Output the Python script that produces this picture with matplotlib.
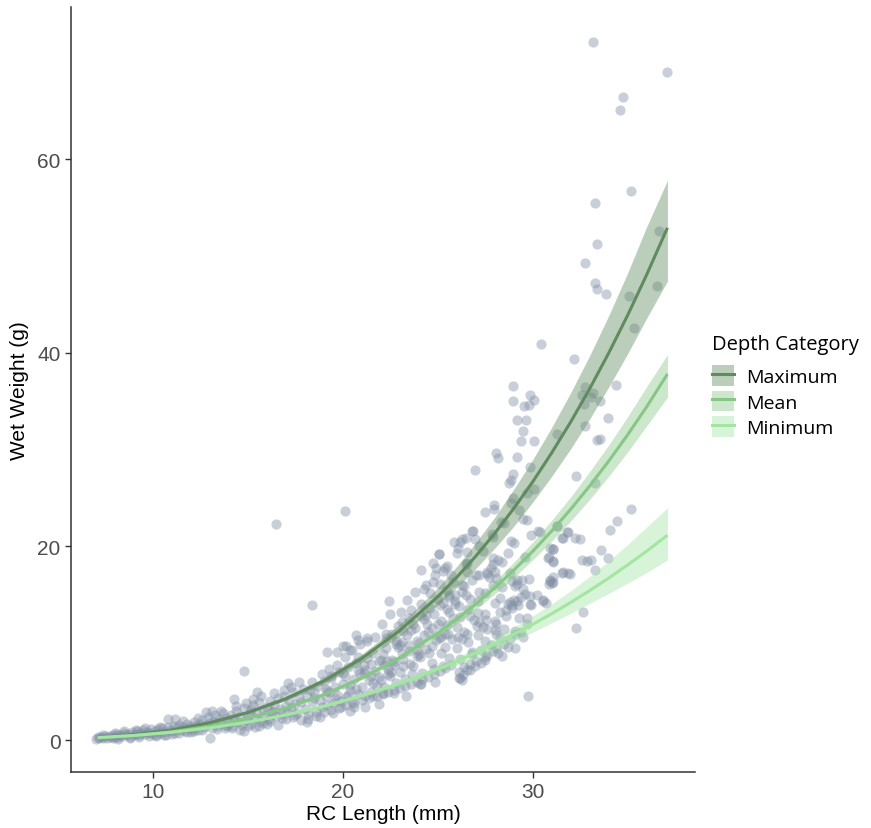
import matplotlib
matplotlib.use("Agg")
import matplotlib.pyplot as plt
from matplotlib.patches import Patch
from matplotlib.lines import Line2D

# scatter points (RC length mm, wet weight g)
ax_ = [7.0, 7.1, 7.2, 7.3, 7.4, 7.5, 7.6, 7.7, 7.8, 7.9,
       8.0, 8.1, 8.2, 8.3, 8.4, 8.5, 8.6, 8.7, 8.8, 8.9,
       9.0, 9.1, 9.2, 9.3, 9.4, 9.5, 9.6, 9.7, 9.8, 9.9,
       7.4, 8.2, 8.8, 9.3, 9.8, 7.9, 8.5, 9.1, 9.6, 8.0]
ay_ = [0.15, 0.3, 0.2, 0.35, 0.25, 0.4, 0.2, 0.45, 0.3, 0.5,
       0.35, 0.6, 0.3, 0.55, 0.4, 0.7, 0.5, 0.6, 0.35, 0.8,
       0.55, 0.65, 0.9, 0.5, 0.75, 1.0, 0.6, 0.85, 0.7, 1.1,
       0.5, 0.15, 0.2, 0.3, 0.4, 0.2, 0.9, 1.0, 1.2, 0.7]

bx = [10.0, 10.1, 10.2, 10.3, 10.4, 10.5, 10.6, 10.7, 10.8, 10.9,
      11.0, 11.1, 11.2, 11.3, 11.4, 11.5, 11.6, 11.7, 11.8, 11.9,
      12.0, 12.1, 12.2, 12.3, 12.4, 12.5, 12.6, 12.7, 12.8, 12.9,
      13.0, 13.1, 13.2, 13.3, 13.4, 13.5, 13.6, 13.7, 13.8, 13.9,
      10.2, 10.6, 11.0, 11.4, 11.8, 12.2, 12.6, 13.0, 13.4, 13.8,
      10.4, 10.8, 11.6, 12.4, 13.1, 13.6, 12.0, 11.2, 12.8, 13.9]
by = [0.6, 0.9, 0.5, 1.1, 0.7, 1.2, 0.8, 0.5, 1.3, 1.0,
      0.9, 1.4, 0.7, 1.2, 1.6, 1.0, 1.3, 0.9, 1.7, 1.2,
      1.5, 1.1, 1.9, 1.4, 1.0, 1.7, 2.1, 1.3, 1.6, 2.4,
      1.8, 1.2, 2.0, 2.6, 1.5, 2.2, 1.9, 2.8, 1.6, 2.3,
      0.4, 0.5, 0.6, 0.7, 0.8, 0.9, 1.0, 0.25, 1.1, 1.2,
      1.3, 2.2, 2.0, 2.3, 3.0, 3.0, 0.8, 2.2, 2.9, 1.4]

cx = [14.0, 14.1, 14.2, 14.3, 14.4, 14.5, 14.6, 14.7, 14.8, 14.9,
      15.0, 15.1, 15.2, 15.3, 15.4, 15.5, 15.6, 15.7, 15.8, 15.9,
      16.0, 16.1, 16.2, 16.3, 16.4, 16.5, 16.6, 16.7, 16.8, 16.9,
      17.0, 17.1, 17.2, 17.3, 17.4, 17.5, 17.6, 17.7, 17.8, 17.9,
      14.2, 14.6, 15.0, 15.4, 15.8, 16.2, 16.6, 17.0, 17.4, 17.8,
      14.4, 14.9, 15.3, 15.7, 16.4, 16.9, 17.3, 17.7, 14.8, 15.6,
      16.0, 16.8, 17.5, 15.2, 16.3, 14.8, 16.5, 15.5, 17.1, 14.3]
cy = [1.8, 2.6, 1.4, 2.2, 3.0, 1.9, 2.5, 1.6, 3.3, 2.1,
      2.4, 2.9, 1.7, 3.6, 2.3, 2.8, 3.9, 2.0, 3.1, 2.6,
      3.4, 2.2, 4.0, 2.9, 3.6, 2.5, 4.3, 3.2, 2.7, 4.6,
      3.5, 2.9, 4.1, 3.3, 5.0, 3.7, 2.8, 4.4, 3.9, 5.3,
      1.2, 1.0, 1.5, 1.3, 1.8, 2.0, 1.6, 2.2, 2.4, 2.1,
      3.5, 3.8, 4.2, 4.5, 4.9, 5.2, 5.5, 6.0, 0.9, 1.4,
      1.7, 2.3, 2.6, 3.2, 3.0, 7.1, 22.3, 5.0, 5.9, 4.2]

dx = [18.0, 18.1, 18.2, 18.3, 18.4, 18.5, 18.6, 18.7, 18.8, 18.9,
      19.0, 19.1, 19.2, 19.3, 19.4, 19.5, 19.6, 19.7, 19.8, 19.9,
      20.0, 20.1, 20.2, 20.3, 20.4, 20.5, 20.6, 20.7, 20.8, 20.9,
      21.0, 21.1, 21.2, 21.3, 21.4, 21.5, 21.6, 21.7, 21.8, 21.9,
      18.2, 18.6, 19.0, 19.4, 19.8, 20.2, 20.6, 21.0, 21.4, 21.8,
      18.4, 18.9, 19.3, 19.7, 20.1, 20.5, 20.9, 21.3, 21.7, 18.1,
      18.8, 19.5, 20.4, 21.2, 21.9, 19.1, 20.8, 21.5, 18.5, 20.0,
      18.4, 19.2, 19.7, 20.2, 20.4, 20.7, 20.8, 21.3, 20.6, 20.1]
dy = [3.2, 4.6, 2.7, 5.2, 3.9, 4.3, 2.9, 5.6, 4.1, 3.4,
      6.1, 4.5, 3.6, 5.0, 6.4, 3.8, 5.5, 4.7, 7.0, 4.0,
      5.8, 6.6, 4.4, 7.5, 5.2, 3.9, 6.3, 8.0, 4.8, 6.9,
      5.5, 7.8, 4.6, 8.5, 6.2, 5.0, 9.0, 7.1, 5.6, 8.2,
      2.2, 2.5, 2.9, 3.1, 3.3, 3.6, 3.8, 4.1, 4.3, 4.5,
      6.0, 6.8, 7.3, 7.8, 8.6, 9.3, 9.9, 10.2, 10.6, 1.9,
      2.4, 2.8, 3.0, 3.4, 3.7, 5.3, 7.2, 6.6, 5.0, 9.7,
      13.9, 9.1, 9.05, 9.7, 9.3, 10.8, 10.3, 10.5, 3.45, 23.7]

ex = [22.0, 22.1, 22.2, 22.3, 22.4, 22.5, 22.6, 22.7, 22.8, 22.9,
      23.0, 23.1, 23.2, 23.3, 23.4, 23.5, 23.6, 23.7, 23.8, 23.9,
      24.0, 24.1, 24.2, 24.3, 24.4, 24.5, 24.6, 24.7, 24.8, 24.9,
      25.0, 25.1, 25.2, 25.3, 25.4, 25.5, 25.6, 25.7, 25.8, 25.9,
      22.1, 22.4, 22.7, 23.0, 23.3, 23.6, 23.9, 24.2, 24.5, 24.8,
      25.1, 25.4, 25.7, 22.2, 22.6, 23.1, 23.5, 23.9, 24.3, 24.7,
      25.2, 25.6, 25.9, 22.3, 22.8, 23.2, 23.7, 24.1, 24.6, 25.0,
      25.5, 25.8, 22.5, 23.4, 24.4, 25.3, 22.9, 23.8, 24.9, 25.4,
      22.05, 22.55, 23.05, 23.55, 24.05, 24.55, 25.05, 25.55, 22.35, 23.65,
      22.45, 24.15, 24.75, 25.05, 25.4, 25.5, 24.85, 24.75, 23.35, 24.1,
      24.85, 22.7, 22.15, 21.6, 25.85, 24.05, 23.0, 25.3, 25.75, 24.45]
ey = [6.2, 8.9, 5.5, 10.5, 7.3, 6.6, 11.0, 8.1, 5.9, 9.6,
      7.0, 12.2, 8.4, 6.3, 10.8, 9.2, 13.4, 7.6, 11.6, 8.7,
      10.0, 14.0, 6.9, 12.5, 9.4, 11.2, 15.2, 8.0, 13.0, 10.3,
      12.0, 16.1, 9.0, 14.2, 11.0, 13.5, 8.5, 17.0, 12.6, 15.0,
      4.8, 5.0, 5.2, 5.4, 5.6, 5.8, 6.0, 6.3, 6.5, 6.8,
      7.1, 7.4, 7.8, 7.8, 8.3, 9.0, 9.8, 10.2, 10.8, 11.6,
      12.3, 13.2, 14.1, 9.5, 10.2, 11.3, 12.0, 12.8, 13.6, 14.6,
      15.5, 16.3, 13.0, 14.5, 16.0, 17.5, 11.8, 15.3, 17.8, 9.6,
      12.0, 7.0, 13.2, 7.9, 8.6, 9.0, 10.5, 10.9, 8.2, 6.8,
      14.4, 17.6, 18.3, 19.2, 17.8, 18.0, 17.0, 16.3, 4.6, 5.8,
      5.95, 4.9, 4.9, 4.6, 20.5, 5.75, 9.8, 7.6, 10.4, 12.0]

fx = [26.0, 26.1, 26.2, 26.3, 26.4, 26.5, 26.6, 26.7, 26.8, 26.9,
      27.0, 27.1, 27.2, 27.3, 27.4, 27.5, 27.6, 27.7, 27.8, 27.9,
      28.0, 28.1, 28.2, 28.3, 28.4, 28.5, 28.6, 28.7, 28.8, 28.9,
      29.0, 29.1, 29.2, 29.3, 29.4, 29.5, 29.6, 29.7, 29.8, 29.9,
      26.1, 26.4, 26.7, 27.0, 27.3, 27.6, 27.9, 28.2, 28.5, 28.8,
      29.1, 29.4, 29.7, 26.2, 26.6, 27.1, 27.5, 27.9, 28.3, 28.7,
      29.2, 29.6, 26.3, 26.8, 27.4, 28.0, 28.6, 29.3, 29.9, 26.5,
      27.2, 27.8, 28.4, 29.0, 29.5, 26.05, 26.55, 27.05, 27.55, 28.05]
fy = [9.5, 13.8, 8.4, 16.0, 11.2, 18.2, 10.1, 14.6, 8.9, 12.4,
      17.0, 10.8, 15.3, 9.3, 19.5, 13.0, 11.5, 16.8, 9.8, 21.0,
      14.2, 12.0, 18.6, 10.5, 15.8, 22.4, 12.8, 9.6, 17.2, 13.9,
      20.3, 11.3, 16.1, 23.8, 14.8, 10.6, 18.9, 12.6, 16.6, 21.2,
      7.0, 7.5, 7.9, 8.2, 8.0, 8.8, 9.2, 9.0, 9.9, 10.4,
      10.9, 11.2, 12.0, 12.7, 13.5, 14.4, 15.2, 16.0, 13.2, 14.0,
      14.4, 15.1, 15.3, 16.5, 11.7, 12.3, 13.4, 12.6, 13.9, 15.0,
      17.0, 17.8, 18.4, 14.5, 15.6, 10.6, 11.0, 11.8, 12.4, 11.0]

gx = [28.96, 28.96, 29.86, 30.07, 29.56, 29.8, 29.17, 29.66, 29.47, 29.37,
      30.07, 28.07, 28.16, 29.17, 26.96, 29.86, 28.96, 28.86, 28.77, 30.07,
      28.95, 28.86, 29.68, 27.96, 27.98, 27.47, 29.47, 29.68, 28.33, 26.82,
      26.87, 27.88, 26.47, 26.17, 26.98, 28.86, 26.08, 26.56, 26.0, 25.07,
      27.93, 27.58, 28.02, 28.1, 28.9, 29.16, 29.42, 26.53, 26.56, 26.26,
      29.07, 28.1, 27.49, 27.49, 26.96, 26.53, 26.35, 26.26, 26.1, 26.7,
      29.77, 29.87, 30.21, 29.87, 29.24, 28.9, 26.17, 25.6, 27.2, 28.5]
gy = [36.6, 35.0, 35.6, 35.1, 34.5, 34.6, 33.0, 33.0, 31.9, 30.9,
      30.9, 29.6, 29.1, 29.2, 27.9, 28.2, 27.5, 26.9, 26.5, 25.9,
      25.0, 24.5, 25.5, 24.3, 23.9, 23.6, 22.8, 22.7, 22.5, 21.6,
      21.6, 21.3, 20.9, 20.5, 20.8, 20.6, 19.8, 19.4, 19.3, 19.2,
      18.2, 17.1, 17.4, 16.7, 16.4, 16.5, 16.5, 18.3, 17.4, 20.8,
      9.5, 9.5, 8.3, 8.6, 7.6, 7.2, 6.7, 6.2, 6.4, 7.2,
      4.6, 14.9, 15.0, 14.1, 13.9, 13.6, 6.4, 15.0, 20.0, 11.5]

hx = [30.42, 33.17, 37.07, 34.77, 34.6, 35.16, 33.30, 33.37, 32.77, 33.26,
      33.37, 33.86, 36.65, 36.56, 35.07, 35.35, 32.16, 34.37, 32.77, 32.6,
      33.16, 33.05, 32.7, 33.56, 33.96, 32.77, 33.37, 33.56, 31.3, 32.26,
      33.28, 35.17, 34.47, 34.07, 31.88, 31.56, 32.23, 32.47, 31.3, 30.38,
      31.07, 33.58, 30.86, 31.07, 32.58, 32.84, 33.07, 33.98, 33.3, 31.56,
      31.98, 31.05, 30.9, 30.86, 30.53, 30.68, 32.65, 32.26, 30.3, 31.3,
      31.58, 31.8, 31.05, 30.91, 31.05, 30.82, 31.61, 31.87, 30.91, 31.0,
      31.09, 30.56]
hy = [40.9, 72.1, 69.0, 66.4, 65.1, 56.7, 55.5, 51.2, 49.3, 47.2,
      46.6, 46.1, 52.6, 46.9, 45.9, 42.5, 39.3, 36.7, 36.5, 35.6,
      35.8, 35.4, 34.7, 35.0, 33.3, 32.4, 31.0, 31.1, 31.6, 27.3,
      26.5, 23.9, 22.6, 21.7, 21.5, 20.9, 20.9, 20.8, 22.1, 21.5,
      19.7, 19.6, 18.9, 18.4, 18.6, 18.5, 18.6, 18.8, 17.6, 17.3,
      17.1, 16.8, 16.4, 16.1, 14.4, 14.2, 13.2, 11.6, 21.6, 22.1,
      20.9, 21.5, 19.7, 19.8, 18.5, 18.8, 17.4, 17.2, 16.5, 16.2,
      16.3, 14.45]

ix = [19.2, 19.6, 20.0, 20.4, 20.8, 21.2, 21.6, 22.0, 22.4, 22.8,
      23.2, 23.6, 24.0, 24.4, 24.8, 25.2, 25.6, 26.0, 26.4, 26.8,
      27.2, 27.6, 28.0, 28.4, 28.8, 19.4, 19.9, 20.3, 20.7, 21.1,
      21.5, 21.9, 22.3, 22.7, 23.1, 23.5, 23.9, 24.3, 24.7, 25.1,
      25.5, 25.9, 26.3, 26.7, 27.1, 27.5, 27.9, 28.3, 28.7, 29.1]
iy = [5.1, 4.3, 6.9, 5.7, 8.6, 7.2, 5.9, 8.3, 6.8, 9.9,
      7.6, 11.4, 8.9, 12.9, 7.3, 10.6, 14.8, 11.7, 15.9, 9.1,
      12.2, 17.4, 11.4, 8.7, 14.3, 6.6, 3.4, 4.7, 5.3, 6.9,
      7.9, 6.5, 10.9, 7.7, 10.1, 12.6, 9.3, 15.6, 9.7, 13.9,
      11.9, 14.4, 10.4, 12.8, 13.1, 10.2, 18.8, 14.7, 19.3, 15.9]

# fitted curves and confidence ribbons per depth category
fit_x = [7.1, 9, 11, 13, 15, 17, 19, 21, 23, 25, 26,
         27, 28, 29, 30, 31, 32, 33, 34, 35, 36, 37.1]
max_fit = [0.25, 0.55, 1.04, 1.79, 2.84, 4.26, 6.09, 8.42, 11.30, 14.79, 16.79,
           18.97, 21.33, 23.89, 26.65, 29.64, 32.83, 36.26, 39.94, 43.85, 48.03, 52.9]
max_lo = [0.23, 0.51, 0.97, 1.69, 2.69, 4.05, 5.79, 8.01, 10.70, 13.93, 15.73,
          17.69, 19.79, 22.05, 24.55, 27.22, 30.06, 33.14, 36.43, 39.88, 43.54, 47.4]
max_hi = [0.27, 0.60, 1.12, 1.90, 3.00, 4.48, 6.40, 8.85, 11.94, 15.70, 17.92,
          20.35, 22.99, 25.88, 28.93, 32.27, 35.85, 39.68, 43.79, 48.22, 52.98, 57.8]
mean_fit = [0.22, 0.46, 0.85, 1.43, 2.24, 3.31, 4.69, 6.40, 8.51, 11.03, 12.46,
            14.02, 15.71, 17.53, 19.48, 21.58, 23.82, 26.23, 28.79, 31.51, 34.40, 37.8]
mean_lo = [0.20, 0.43, 0.82, 1.38, 2.17, 3.21, 4.55, 6.21, 8.26, 10.65, 12.01,
           13.47, 15.06, 16.76, 18.59, 20.53, 22.61, 24.83, 27.22, 29.73, 32.43, 35.4]
mean_hi = [0.23, 0.48, 0.89, 1.49, 2.32, 3.41, 4.83, 6.59, 8.77, 11.42, 12.93,
           14.59, 16.38, 18.34, 20.42, 22.69, 25.09, 27.71, 30.45, 33.39, 36.49, 39.8]
min_fit = [0.25, 0.47, 0.80, 1.26, 1.85, 2.59, 3.49, 4.57, 5.85, 7.31, 8.13,
           9.00, 9.92, 10.90, 11.94, 13.04, 14.20, 15.43, 16.72, 18.08, 19.50, 21.15]
min_lo = [0.23, 0.43, 0.75, 1.19, 1.76, 2.48, 3.36, 4.40, 5.59, 6.96, 7.72,
          8.51, 9.34, 10.21, 11.13, 12.10, 13.08, 14.10, 15.13, 16.20, 17.29, 18.6]
min_hi = [0.27, 0.51, 0.86, 1.34, 1.95, 2.71, 3.64, 4.76, 6.11, 7.69, 8.56,
          9.50, 10.53, 11.63, 12.81, 14.06, 15.41, 16.88, 18.48, 20.18, 21.99, 24.0]

categories = ["Maximum", "Mean", "Minimum"]
cat_colors = ["#5f8b5f", "#86c786", "#a2e6a2"]

pts_x = ax_ + bx + cx + dx + ex + fx + gx + hx + ix
pts_y = ay_ + by + cy + dy + ey + fy + gy + hy + iy

fig = plt.figure(figsize=(8.71, 8.29), dpi=100)
ax = fig.add_axes([71 / 871, 56 / 829, (695 - 71) / 871, (773 - 8) / 829])

ax.scatter(pts_x, pts_y, s=54, color="#7f8ea3", alpha=0.42, linewidths=0, zorder=1)

curves = [(max_fit, max_lo, max_hi), (mean_fit, mean_lo, mean_hi), (min_fit, min_lo, min_hi)]
handles = []
for (fit, lo, hi), col, lab in zip(curves, cat_colors, categories):
    ax.fill_between(fit_x, lo, hi, color=col, alpha=0.42, linewidth=0, zorder=2)
    ax.plot(fit_x, fit, color=col, lw=2.2, zorder=3, solid_capstyle="butt")
    handles.append((Patch(facecolor=col, alpha=0.42, edgecolor="none"),
                    Line2D([], [], color=col, lw=2.2)))

ax.set_xlim(5.7, 38.55)
ax.set_ylim(-3.3, 75.7)
ax.set_xticks([10, 20, 30])
ax.set_yticks([0, 20, 40, 60])

for side in ["top", "right"]:
    ax.spines[side].set_visible(False)
for side in ["left", "bottom"]:
    ax.spines[side].set_color("#333333")
    ax.spines[side].set_linewidth(1.1)
ax.tick_params(colors="#4d4d4d", labelsize=15, length=4, width=1.0)
ax.tick_params(axis="both", color="#333333")

ax.set_xlabel("RC Length (mm)", fontsize=15, labelpad=2, family="Liberation Sans")
ax.set_ylabel("Wet Weight (g)", fontsize=15, labelpad=6, family="Liberation Sans")
for lbl in ax.get_xticklabels() + ax.get_yticklabels():
    lbl.set_family("Liberation Sans")

leg = fig.legend(handles, categories, title="Depth Category", loc="upper left",
                 bbox_to_anchor=(0.797, 0.617), frameon=False,
                 prop={"family": "Open Sans", "size": 14},
                 title_fontproperties={"family": "Open Sans", "size": 14.5},
                 handlelength=1.15, handleheight=1.25, handletextpad=0.6,
                 labelspacing=0.25, alignment="left")
leg._legend_box.sep = 8

fig.savefig("out.png", dpi=100)
